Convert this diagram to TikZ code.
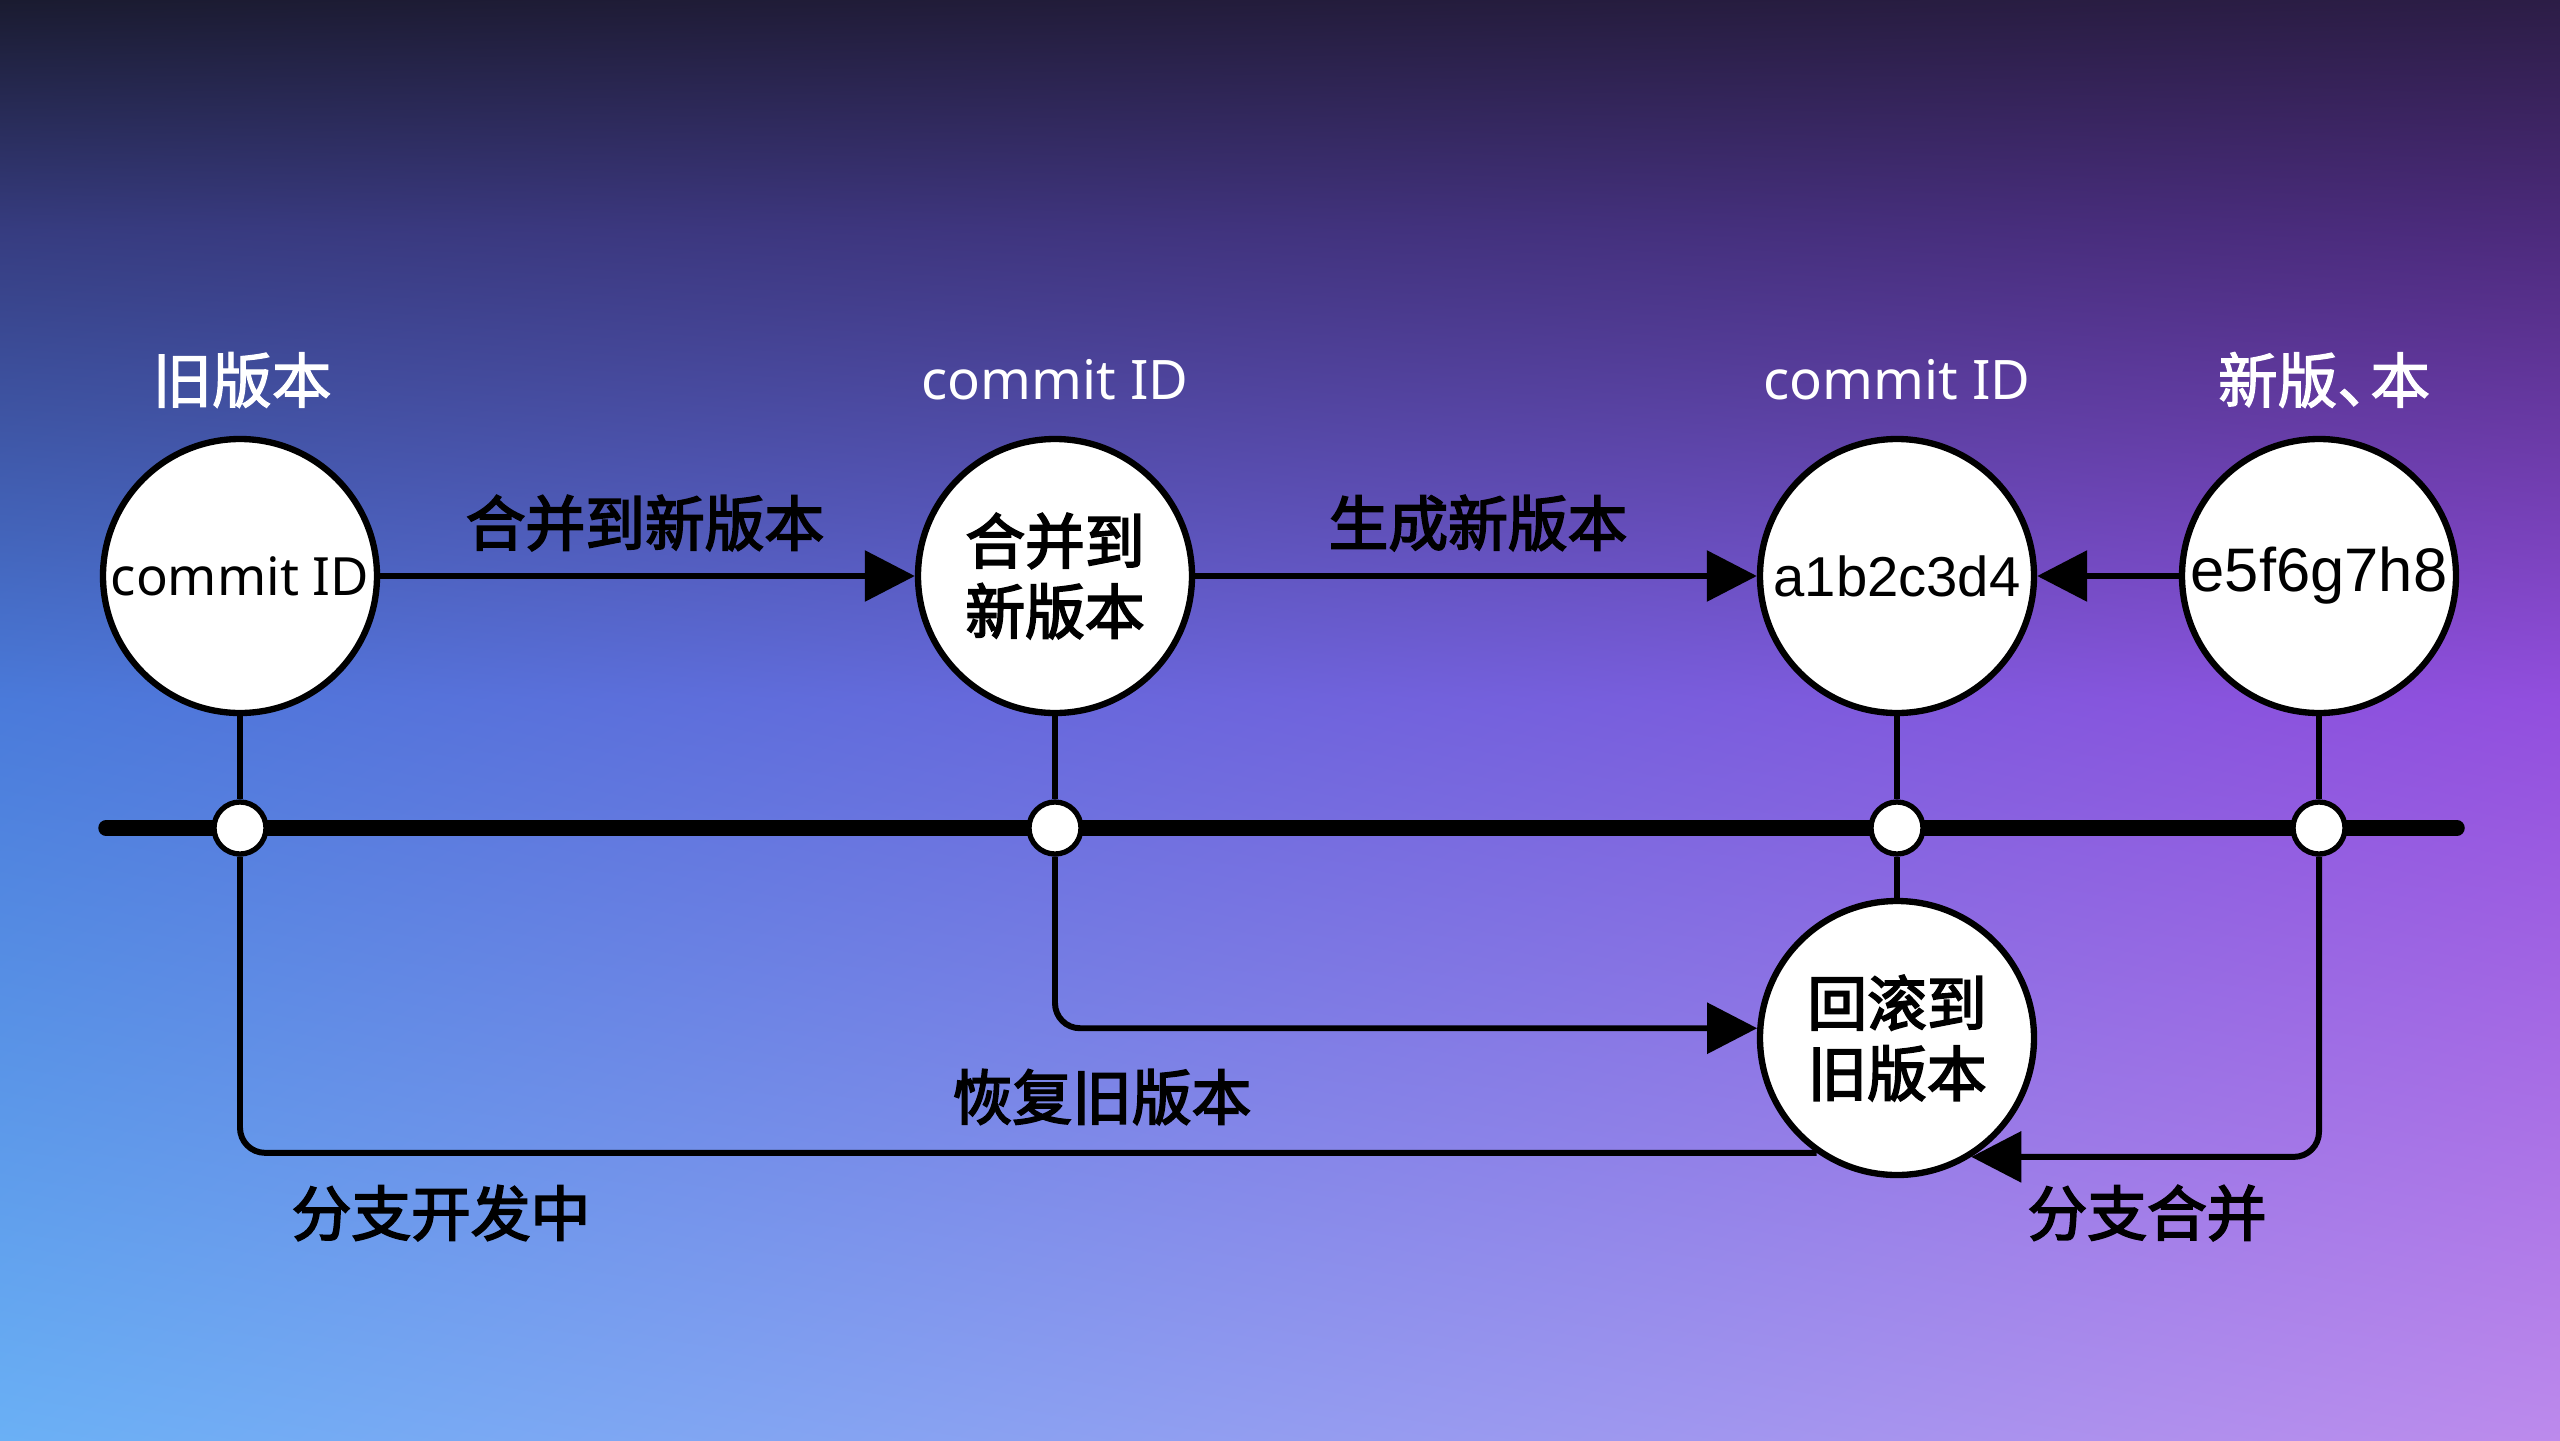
\documentclass[tikz,border=0pt]{standalone}
\usepackage{fontspec}
\newfontfamily\cjk[FakeBold=3]{Noto Sans CJK SC}
\newfontfamily\cjkw[FakeBold=2]{Noto Sans CJK SC}
\newfontfamily\idfont{Liberation Sans}
\newfontfamily\cmfont{Noto Sans}
\usetikzlibrary{arrows.meta,shadings}
\definecolor{bgA}{RGB}{26,27,48}
\definecolor{bgB}{RGB}{44,29,70}
\definecolor{bgC}{RGB}{54,60,128}
\definecolor{bgD}{RGB}{76,42,124}
\definecolor{bgE}{RGB}{74,122,218}
\definecolor{bgF}{RGB}{146,78,222}
\definecolor{bgG}{RGB}{106,176,245}
\definecolor{bgH}{RGB}{188,138,236}
\tikzset{
  big/.style={circle, draw=black, line width=1.8pt, fill=white, minimum size=2.74cm, inner sep=0pt, align=center},
  dot/.style={circle, draw=black, line width=1.5pt, fill=white, minimum size=0.52cm, inner sep=0pt},
  conn/.style={draw=black, line width=1.7pt},
  arr/.style={conn, -{Triangle[length=0.5cm,width=0.5cm]}},
  lbl/.style={font=\cjk\fontsize{17}{20}\selectfont, text=black, inner sep=0pt},
  toplbl/.style={font=\cjkw\fontsize{17}{20}\selectfont, text=white, inner sep=0pt},
  topid/.style={font=\cmfont\fontsize{15.5}{18}\selectfont, text=white, inner sep=0pt},
  cjkin/.style={font=\cjk\fontsize{17}{20}\selectfont},
  idin/.style={font=\idfont\fontsize{16}{19}\selectfont},
  cmin/.style={font=\cmfont\fontsize{15}{18}\selectfont},
}
\begin{document}
\begin{tikzpicture}
\useasboundingbox (0,0) rectangle (25.6,-14.4);
% background
\shade[upper left=bgA, upper right=bgB, lower left=bgC, lower right=bgD] (0,0) rectangle (25.6,-2.3);
\shade[upper left=bgC, upper right=bgD, lower left=bgE, lower right=bgF] (0,-2.3) rectangle (25.6,-7.0);
\shade[upper left=bgE, upper right=bgF, lower left=bgG, lower right=bgH] (0,-7.0) rectangle (25.6,-14.4);

% main commit circles
\node[big, cmin] (c1) at (2.40,-5.76) {commit ID};
\node[big, cjkin] (c2) at (10.55,-5.76) {合并到\\新版本};
\node[big, idin] (c3) at (18.97,-5.76) {a1b2c3d4};
\node[big, idin, font=\idfont\fontsize{17.5}{20}\selectfont] (c4) at (23.19,-5.76) {e5f6g7h8};
\node[big, cjkin] (c5) at (18.97,-10.38) {回滚到\\旧版本};

% top labels
\node[toplbl] (t1) at (2.42,-3.80) {旧版本};
\node[topid] (t2) at (10.55,-3.80) {commit ID};
\node[topid] (t3) at (18.97,-3.80) {commit ID};
\node[toplbl] (t4) at (23.24,-3.80) {新版、\kern-0.45em本};

% timeline
\coordinate (tlL) at (1.06,-8.28);
\coordinate (tlR) at (24.57,-8.28);
\draw[black, line width=4.4pt, line cap=round] (tlL) -- (tlR);

% dots on timeline
\node[dot] (d1) at (2.40,-8.28) {};
\node[dot] (d2) at (10.55,-8.28) {};
\node[dot] (d3) at (18.97,-8.28) {};
\node[dot] (d4) at (23.19,-8.28) {};

% vertical stems
\draw[conn] (c1.south) -- (d1.north);
\draw[conn] (c2.south) -- (d2.north);
\draw[conn] (c3.south) -- (d3.north);
\draw[conn] (c4.south) -- (d4.north);
\draw[conn] (d3.south) -- (c5.north);

% top arrows
\draw[arr] (c1.east) -- (c2.west);
\draw[arr] (c2.east) -- (c3.west);
\draw[arr] (c4.west) -- (c3.east);

% branch connectors
\draw[conn, rounded corners=0.25cm] (d1.south) |- (c5.235.7);
\draw[arr, rounded corners=0.25cm] (d2.south) |- (c5.176);
\draw[arr, rounded corners=0.25cm] (d4.south) |- (c5.302);

% edge labels
\node[lbl] (l1) at (6.45,-5.23) {合并到新版本};
\node[lbl] (l2) at (14.78,-5.23) {生成新版本};
\node[lbl] (l3) at (11.02,-10.97) {恢复旧版本};
\node[lbl] (l4) at (4.41,-12.13) {分支开发中};
\node[lbl] (l5) at (21.47,-12.13) {分支合并};
\end{tikzpicture}
\end{document}
